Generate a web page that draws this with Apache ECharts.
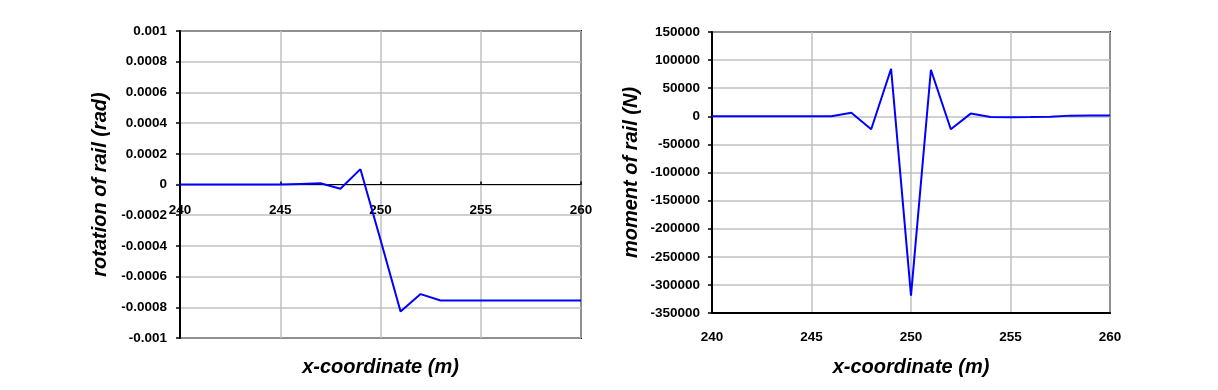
<!DOCTYPE html>
<html>
<head>
<meta charset="utf-8">
<script src="https://cdn.jsdelivr.net/npm/echarts@6/dist/echarts.min.js"></script>
<style>html,body{margin:0;padding:0;background:#fff;}#c{width:1218px;height:390px;}</style>
</head>
<body>
<div id="c"></div>
<script>
var xCoord = [240,241,242,243,244,245,246,247,248,249,250,251,252,253,254,255,256,257,258,259,260];
var rotation = [0,0,0,0,0,0,0.000004,0.000008,-0.000028,0.0001,-0.00036,-0.000827,-0.000714,-0.000756,-0.000756,-0.000756,-0.000756,-0.000756,-0.000756,-0.000756,-0.000756];
var moment = [0,0,0,0,0,0,0,6500,-23000,84600,-319000,82800,-23000,4800,-1200,-1500,-1200,-800,1200,1500,1500];
var xTicks = {min:240, max:260, interval:5};
var rotTicks = {min:-0.001, max:0.001, interval:0.0002};
var momTicks = {min:-350000, max:150000, interval:50000};

function pair(xs, ys){ return xs.map(function(x,i){return [x, ys[i]];}); }
function plain(v){ return String(parseFloat(v.toPrecision(6))); }
var FONT = '"Liberation Sans", Arial, sans-serif';
var lab = {color:'#000', fontFamily:FONT, fontWeight:'bold', fontSize:13.5, formatter:plain};
var nameSt = {color:'#000', fontFamily:FONT, fontWeight:'bold', fontStyle:'italic', fontSize:20};
var grid = {show:true, borderColor:'#000', borderWidth:2, backgroundColor:'#fff', containLabel:false, outerBoundsMode:'none'};
var split = {show:true, lineStyle:{color:'#c0c0c0', width:1.5}};
var yTick = {show:true, inside:false, length:4, lineStyle:{color:'#000', width:1.5}};

var chart = echarts.init(document.getElementById('c'), null, {renderer:'canvas'});
chart.setOption({
  backgroundColor:'#fff',
  animation:false,
  grid:[
    Object.assign({left:180, top:31, width:401, height:307}, grid),
    Object.assign({left:712, top:32, width:398, height:281}, grid)
  ],
  xAxis:[
    {gridIndex:0, type:'value', position:'bottom', min:xTicks.min, max:xTicks.max, interval:xTicks.interval,
     axisLine:{show:false, onZero:false},
     axisTick:{show:false},
     axisLabel:Object.assign({}, lab, {margin:-135, hideOverlap:false}),
     splitLine:split,
     name:'x-coordinate (m)', nameLocation:'middle', nameGap:19, nameTextStyle:nameSt},
    {gridIndex:1, type:'value', min:xTicks.min, max:xTicks.max, interval:xTicks.interval,
     axisLine:{onZero:false, lineStyle:{color:'#000', width:2}},
     axisTick:{show:false},
     axisLabel:Object.assign({}, lab, {margin:17}),
     splitLine:split,
     name:'x-coordinate (m)', nameLocation:'middle', nameGap:44, nameTextStyle:nameSt},
    {gridIndex:0, type:'value', min:xTicks.min, max:xTicks.max, interval:xTicks.interval,
     axisLine:{show:true, onZero:true, lineStyle:{color:'#000', width:1}},
     axisTick:{show:true, inside:false, length:3, lineStyle:{color:'#000', width:1.5}},
     axisLabel:{show:false},
     splitLine:{show:false}}
  ],
  yAxis:[
    {gridIndex:0, type:'value', min:rotTicks.min, max:rotTicks.max, interval:rotTicks.interval,
     axisLine:{show:true, onZero:false, lineStyle:{color:'#000', width:2}},
     axisTick:yTick,
     axisLabel:Object.assign({}, lab, {margin:13}),
     splitLine:split,
     name:'rotation of rail (rad)', nameLocation:'middle', nameGap:70, nameTextStyle:nameSt},
    {gridIndex:1, type:'value', min:momTicks.min, max:momTicks.max, interval:momTicks.interval,
     axisLine:{show:true, onZero:false, lineStyle:{color:'#000', width:2}},
     axisTick:yTick,
     axisLabel:Object.assign({}, lab, {margin:12}),
     splitLine:split,
     name:'moment of rail (N)', nameLocation:'middle', nameGap:71, nameTextStyle:nameSt}
  ],
  series:[
    {type:'line', xAxisIndex:0, yAxisIndex:0, data:pair(xCoord, rotation), showSymbol:false, symbol:'none',
     lineStyle:{color:'#0000ff', width:2}, itemStyle:{color:'#0000ff'}, z:5},
    {type:'line', xAxisIndex:1, yAxisIndex:1, data:pair(xCoord, moment), showSymbol:false, symbol:'none',
     lineStyle:{color:'#0000ff', width:2}, itemStyle:{color:'#0000ff'}}
  ]
});
</script>
</body>
</html>
